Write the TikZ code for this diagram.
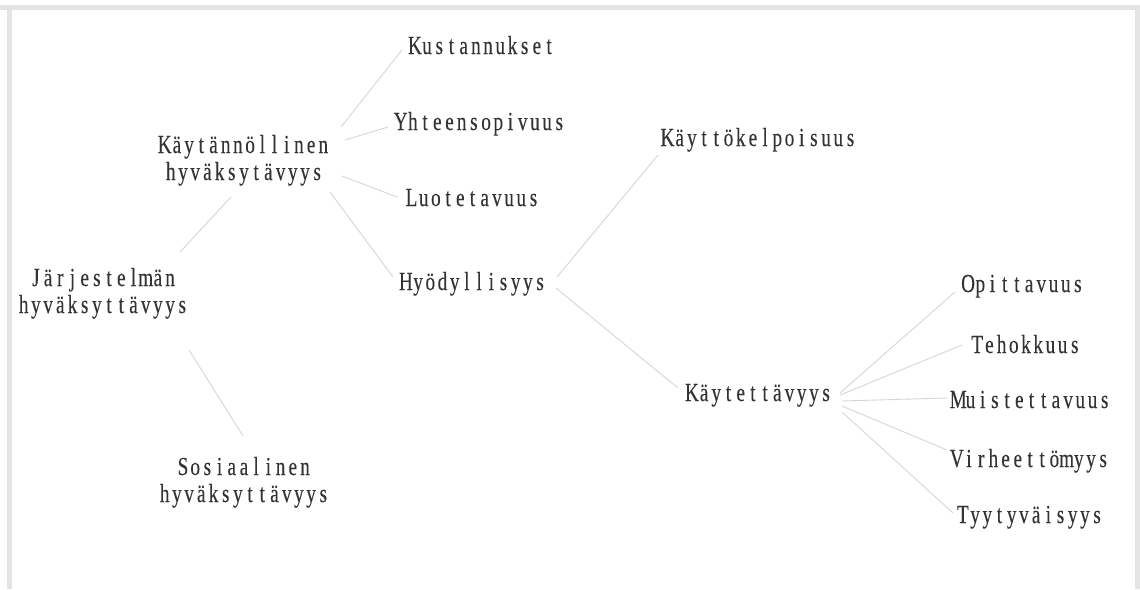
\documentclass[tikz,border=0pt]{standalone}
\usepackage{fontspec}
\newfontfamily\reffont[FakeStretch=0.74,FakeBold=0.15]{Liberation Serif}
\definecolor{txtgray}{HTML}{333333}
\definecolor{linegray}{HTML}{D6D6D6}
\definecolor{framegray}{HTML}{E4E4E4}
\ExplSyntaxOn
\NewDocumentCommand\cells{m}{\tl_map_inline:nn{#1}{\makebox[12.2pt]{##1}}}
\ExplSyntaxOff
\newcommand\lstrut{\rule[-6pt]{0pt}{25pt}}
\tikzset{
  lbl/.style={inner sep=0pt, outer sep=0pt, text=txtgray, align=center,
    font=\reffont\fontsize{26}{27}\selectfont},
  one/.style={lbl, anchor=base},
  two/.style={lbl, anchor=center},
  conn/.style={draw=linegray, line width=0.9pt}
}
\begin{document}
\begin{tikzpicture}[x=1pt,y=-1pt]
\useasboundingbox (0,0) rectangle (1140,589);
\fill[white] (0,0) rectangle (1140,589);
% frame
\fill[framegray] (0,5) rectangle (1140,10);
\fill[framegray] (7,5) rectangle (12,589);
\fill[framegray] (1135,5) rectangle (1140,589);
% nodes
\node[two] (jarj) at (103,293) {\lstrut\cells{Järjestelmän}\\\lstrut\cells{hyväksyttävyys}};
\node[two] (kayt) at (244,160) {\lstrut\cells{Käytännöllinen}\\\lstrut\cells{hyväksytävyys}};
\node[two] (sos) at (244,482) {\lstrut\cells{Sosiaalinen}\\\lstrut\cells{hyväksyttävyys}};
\node[one] (kus) at (482,54) {\lstrut\cells{Kustannukset}};
\node[one] (yht) at (480,130) {\lstrut\cells{Yhteensopivuus}};
\node[one] (luo) at (472.5,206) {\lstrut\cells{Luotetavuus}};
\node[one] (hyo) at (473,290) {\lstrut\cells{Hyödyllisyys}};
\node[one] (kkel) at (759,146) {\lstrut\cells{Käyttökelpoisuus}};
\node[one] (kaytt) at (759,401) {\lstrut\cells{Käytettävyys}};
\node[one] (opi) at (1023,292) {\lstrut\cells{Opittavuus}};
\node[one] (teh) at (1026,353) {\lstrut\cells{Tehokkuus}};
\node[one] (mui) at (1031.5,408) {\lstrut\cells{Muistettavuus}};
\node[one] (vir) at (1030,467) {\lstrut\cells{Virheettömyys}};
\node[one] (tyy) at (1030,523) {\lstrut\cells{Tyytyväisyys}};
% connectors
\draw[conn] ([shift={(77,-41)}]jarj.center) -- ([shift={(-13,37)}]kayt.center);
\draw[conn] ([shift={(86,57)}]jarj.center) -- ([shift={(-1,-46)}]sos.center);
\draw[conn] ([shift={(97,-33)}]kayt.center) -- ([shift={(-80,-4)}]kus.base);
\draw[conn] ([shift={(101,-20)}]kayt.center) -- ([shift={(-92,-3)}]yht.base);
\draw[conn] ([shift={(98,16)}]kayt.center) -- ([shift={(-75.5,-9)}]luo.base);
\draw[conn] ([shift={(86,32)}]kayt.center) -- ([shift={(-80,-13)}]hyo.base);
\draw[conn] ([shift={(84,-13)}]hyo.base) -- ([shift={(-101,9)}]kkel.base);
\draw[conn] ([shift={(83,-2)}]hyo.base) -- ([shift={(-81,-13)}]kaytt.base);
\draw[conn] ([shift={(81,-8)}]kaytt.base) -- ([shift={(-68,0)}]opi.base);
\draw[conn] ([shift={(81,-6)}]kaytt.base) -- ([shift={(-64,-8)}]teh.base);
\draw[conn] ([shift={(83,0)}]kaytt.base) -- ([shift={(-84.5,-10)}]mui.base);
\draw[conn] ([shift={(83,5)}]kaytt.base) -- ([shift={(-83,-17)}]vir.base);
\draw[conn] ([shift={(83,11)}]kaytt.base) -- ([shift={(-77,-10)}]tyy.base);
\end{tikzpicture}
\end{document}
